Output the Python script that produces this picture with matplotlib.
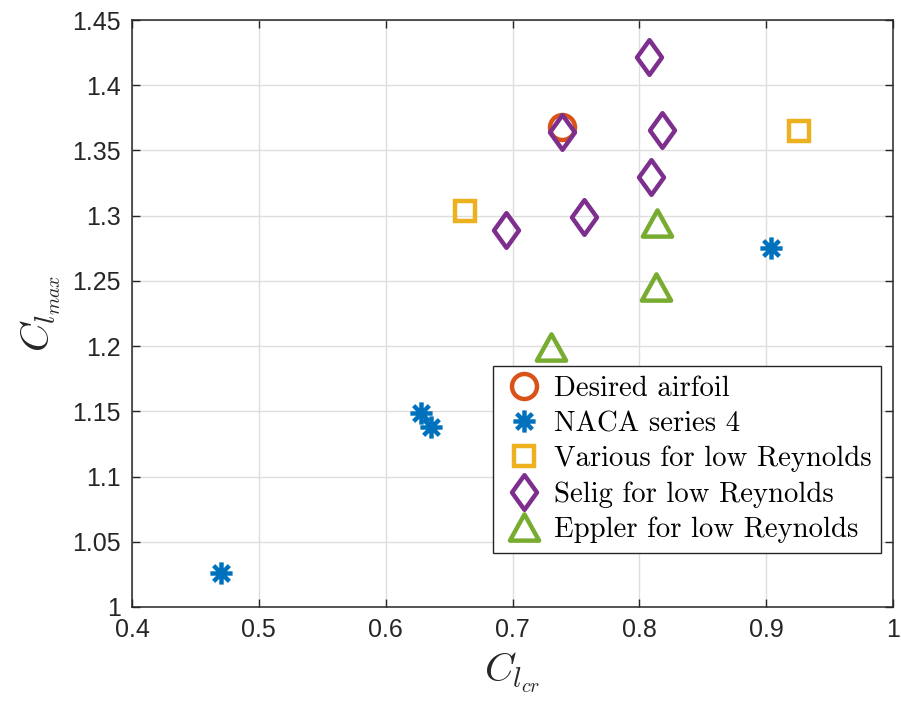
import matplotlib
matplotlib.use("Agg")
import matplotlib.pyplot as plt
from matplotlib.path import Path
from matplotlib.ticker import FuncFormatter, MultipleLocator

plt.rcParams['mathtext.fontset'] = 'cm'

# Data
desired_x = [0.739]
desired_y = [1.368]
naca_x = [0.470, 0.628, 0.6355, 0.904]
naca_y = [1.026, 1.149, 1.138, 1.275]
various_x = [0.6626, 0.926]
various_y = [1.3036, 1.365]
selig_x = [0.808, 0.739, 0.818, 0.809, 0.756, 0.695]
selig_y = [1.422, 1.364, 1.366, 1.330, 1.299, 1.289]
eppler_x = [0.8136, 0.813, 0.730]
eppler_y = [1.2944, 1.245, 1.199]

labels = ['Desired airfoil', 'NACA series 4', 'Various for low Reynolds',
          'Selig for low Reynolds', 'Eppler for low Reynolds']
colors = ['#D95319', '#0072BD', '#EDB120', '#7E2F8E', '#77AC30']

# custom markers
diamond = Path([(0, 1), (0.72, 0), (0, -1), (-0.72, 0), (0, 1)],
               [Path.MOVETO, Path.LINETO, Path.LINETO, Path.LINETO, Path.CLOSEPOLY])
tri = Path([(0, 0.9), (1, -0.9), (-1, -0.9), (0, 0.9)],
           [Path.MOVETO, Path.LINETO, Path.LINETO, Path.CLOSEPOLY])
s = 0.7071
aster = Path([(0, 1), (0, -1), (-1, 0), (1, 0), (-s, -s), (s, s), (-s, s), (s, -s)],
             [Path.MOVETO, Path.LINETO] * 4)

fig = plt.figure(figsize=(9.01, 7.02), dpi=100)
ax = fig.add_axes([132/901, 1 - 607/702, (893-132)/901, (607-20)/702])

mew = 3.2
ax.plot(desired_x, desired_y, ls='none', marker='o', ms=18, mfc='none',
        mec=colors[0], mew=mew, label=labels[0])
ax.plot(naca_x, naca_y, ls='none', marker=aster, ms=16, mfc='none',
        mec=colors[1], mew=mew, label=labels[1])
ax.plot(various_x, various_y, ls='none', marker='s', ms=14.5, mfc='none',
        mec=colors[2], mew=mew, label=labels[2])
ax.plot(selig_x, selig_y, ls='none', marker=diamond, ms=25, mfc='none',
        mec=colors[3], mew=mew, label=labels[3])
ax.plot(eppler_x, eppler_y, ls='none', marker=tri, ms=21, mfc='none',
        mec=colors[4], mew=mew, label=labels[4], solid_joinstyle='miter')

ax.set_xlim(0.4, 1.0)
ax.set_ylim(1.0, 1.45)
ax.xaxis.set_major_locator(MultipleLocator(0.1))
ax.yaxis.set_major_locator(MultipleLocator(0.05))
fmt = FuncFormatter(lambda v, p: ('%.2f' % v).rstrip('0').rstrip('.'))
ax.xaxis.set_major_formatter(fmt)
ax.yaxis.set_major_formatter(fmt)

tick_color = '#262626'
ax.tick_params(which='both', direction='in', top=True, right=True, length=6,
               width=1.0, color=tick_color, labelcolor=tick_color, labelsize=18, pad=8)
for lab in ax.get_xticklabels() + ax.get_yticklabels():
    lab.set_family('Liberation Sans')
for sp in ax.spines.values():
    sp.set_color(tick_color)
    sp.set_linewidth(1.1)

ax.grid(True, color='#dedede', linewidth=1.0)
ax.set_axisbelow(True)

ax.set_xlabel(r'$C_{l_{cr}}$', fontsize=29, color=tick_color, labelpad=6)
ax.set_ylabel(r'$C_{l_{max}}$', fontsize=29, color=tick_color, labelpad=7)

leg = ax.legend(loc='upper left', bbox_to_anchor=(0.474, 0.4106), borderaxespad=0,
                prop={'family': 'cmr10', 'size': 20.7}, handlelength=1.5,
                handletextpad=0.3, labelspacing=0.31, borderpad=0.33,
                fancybox=False, framealpha=1, edgecolor='#262626')
leg.get_frame().set_linewidth(1.0)

fig.savefig('out.png', dpi=100)
